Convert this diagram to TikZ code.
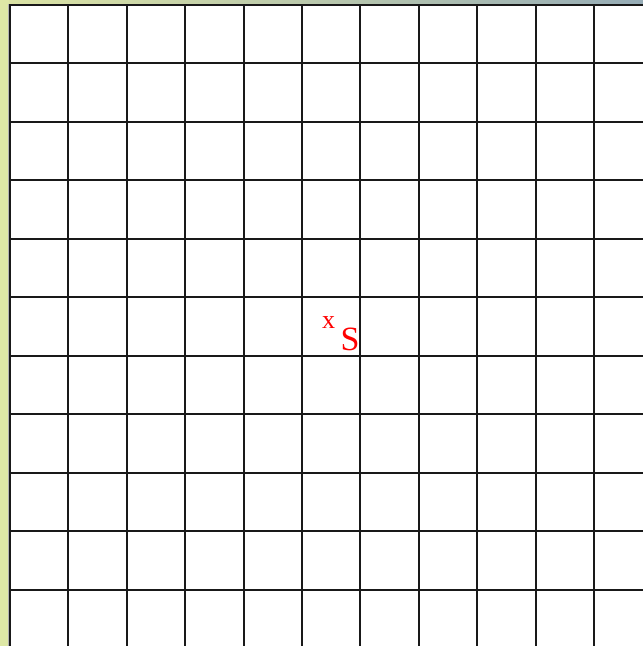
\documentclass[tikz,border=0pt]{standalone}
\usepackage{fontspec}
\setmainfont{Liberation Serif}
\definecolor{bandleft}{RGB}{220,228,164}
\definecolor{bandright}{RGB}{150,172,182}
\definecolor{sideband}{RGB}{222,232,166}
\begin{document}
\begin{tikzpicture}[x={(1pt,0)},y={(0,-1pt)},
  gridline/.style={line width=1.7pt,black!90},
  lbl/.style={text=red,inner sep=0pt,anchor=base}]
\useasboundingbox (0,0) rectangle (643,646);
\fill[white] (0,0) rectangle (643,646);
% top band gradient
\shade[left color=bandleft, right color=bandright] (0,0) rectangle (643,3.5);
% left band
\fill[sideband] (0,0) rectangle (8.5,646);
\draw[gray!60,line width=0.8pt] (8.4,3.5) -- (8.4,646);
% grid
\foreach \i in {0,...,10}{
  \pgfmathsetmacro{\gx}{round(10+58.4*\i)}
  \pgfmathsetmacro{\gy}{round(4.5+58.5*\i)}
  \draw[gridline] (\gx,4) -- (\gx,646);
  \draw[gridline] (9.5,\gy) -- (643,\gy);
}
\node[lbl,font=\fontsize{26}{26}\selectfont] (x) at (328.5,328) {x};
\node[lbl,font=\fontsize{34}{34}\selectfont] (s) at (350,350) {S};
\end{tikzpicture}
\end{document}
